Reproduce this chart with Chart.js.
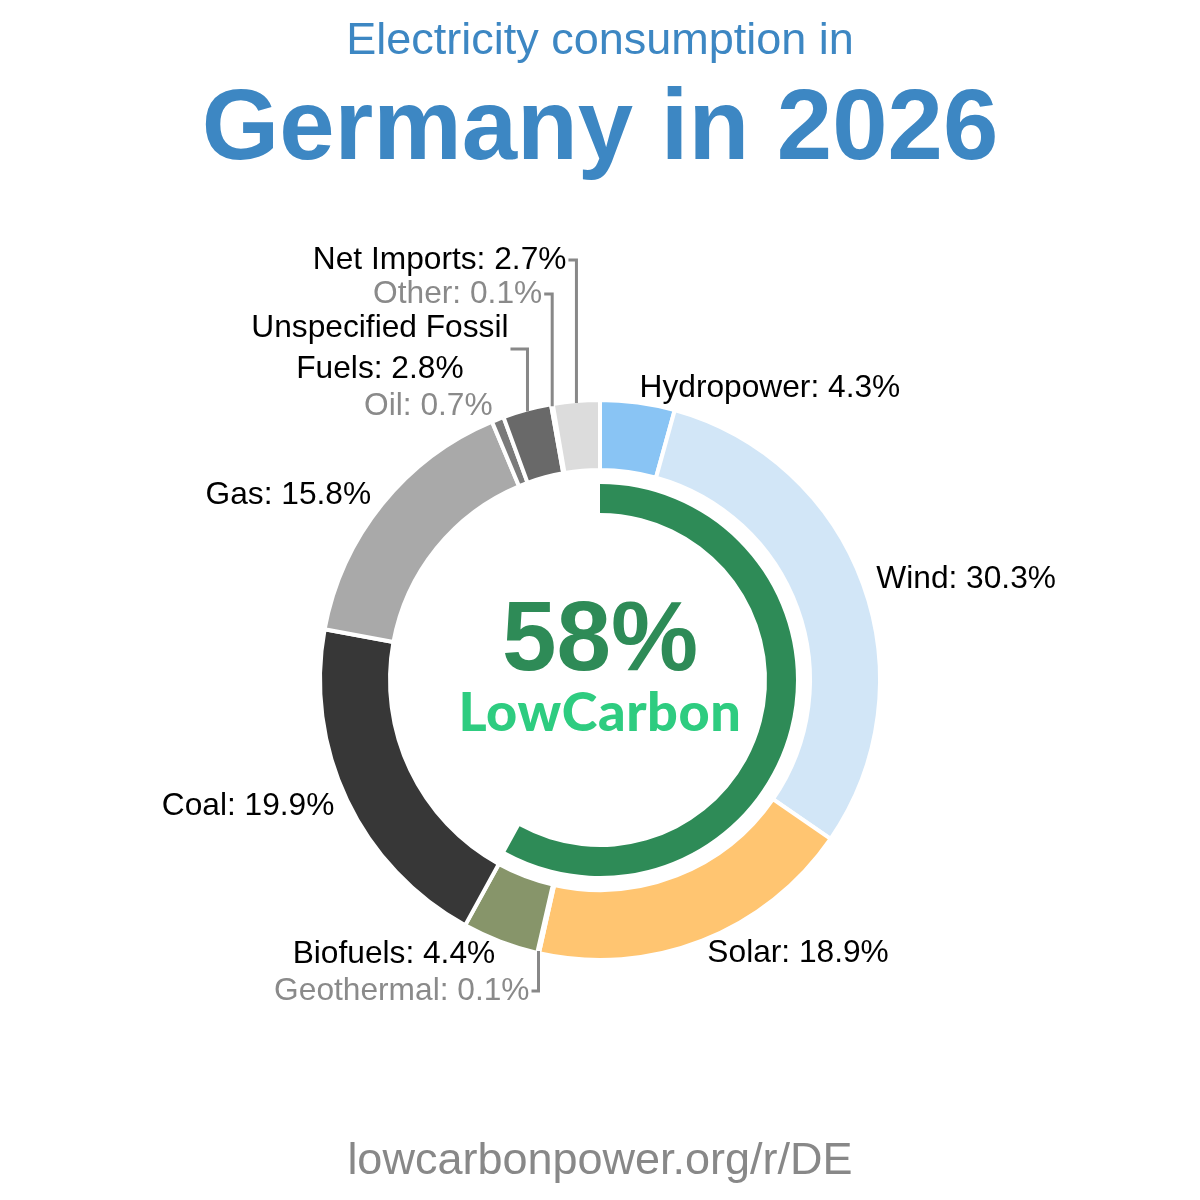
<!DOCTYPE html>
<html>
<head>
<meta charset="utf-8">
<script src="https://cdn.jsdelivr.net/npm/chart.js@4.4.1/dist/chart.umd.min.js"></script>
<style>
html,body{margin:0;padding:0;background:#ffffff;}
#wrap{position:relative;width:1200px;height:1200px;overflow:hidden;background:#fff;}
#c{position:absolute;left:0;top:0;}
.t{position:absolute;left:0;width:1200px;text-align:center;line-height:1;white-space:nowrap;font-family:'Liberation Sans',Arial,sans-serif;}
</style>
</head>
<body>
<div id="wrap">
<canvas id="c" width="1200" height="1200"></canvas>
<div class="t" id="sub" style="top:16px;font-size:45px;color:#3d87c3;"></div>
<div class="t" id="title" style="top:75px;font-size:99.5px;font-weight:bold;color:#3d87c3;"></div>
<div class="t" id="pct" style="top:587px;font-size:98px;font-weight:bold;color:#2e8b57;"></div>
<div class="t" id="lc" style="top:684px;font-size:54px;font-weight:900;letter-spacing:0.6px;font-family:Lato,'Liberation Sans',sans-serif;color:#2ecc80;"></div>
<div class="t" id="foot" style="top:1136px;font-size:45px;color:#888888;"></div>
</div>
<script>
// ---- data ----
const subtitleText = 'Electricity consumption in';
const titleText = 'Germany in 2026';
const footerText = 'lowcarbonpower.org/r/DE';
const categories = ['Hydropower','Wind','Solar','Geothermal','Biofuels','Coal','Gas','Oil','Unspecified Fossil Fuels','Other','Net Imports'];
const shares = [4.3, 30.3, 18.9, 0.1, 4.4, 19.9, 15.8, 0.7, 2.8, 0.1, 2.7];
const lowCarbonFlags = [true, true, true, true, true, false, false, false, false, false, false];
const colors = ['#89c4f4','#d2e6f7','#ffc571','#a0522d','#87956a','#373737','#a9a9a9','#7a7a7a','#696969','#c0c0c0','#dcdcdc'];

// ---- layout (not data) ----
const leaderLayout = {
  'Net Imports': {y: 260, tick: 8},
  'Other': {y: 294, tick: 8},
  'Unspecified Fossil Fuels': {y: 349, tick: 17},
  'Geothermal': {y: 991, tick: 7}
};
const labelFont = '31.7px "Liberation Sans", Arial, sans-serif';

const lowCarbonTotal = shares.reduce((s, v, i) => s + (lowCarbonFlags[i] ? v : 0), 0);
const lowCarbonPct = Math.round(lowCarbonTotal);

document.getElementById('sub').textContent = subtitleText;
document.getElementById('title').textContent = titleText;
document.getElementById('pct').textContent = lowCarbonPct + '%';
document.getElementById('lc').textContent = 'LowCarbon';
document.getElementById('foot').textContent = footerText;

function wrapText(ctx, text, maxW) {
  const words = text.split(' ');
  const lines = [];
  let cur = '';
  for (const w of words) {
    const test = cur ? cur + ' ' + w : w;
    if (ctx.measureText(test).width > maxW && cur) { lines.push(cur); cur = w; }
    else cur = test;
  }
  if (cur) lines.push(cur);
  return lines;
}

const labelPlugin = {
  id: 'sliceLabels',
  afterDatasetsDraw(chart) {
    const ctx = chart.ctx;
    const meta = chart.getDatasetMeta(0);
    ctx.save();
    ctx.font = labelFont;
    ctx.textBaseline = 'middle';
    const lineH = 41;
    meta.data.forEach((arc, i) => {
      const p = arc.getProps(['x','y','startAngle','endAngle','outerRadius'], true);
      const mid = (p.startAngle + p.endAngle) / 2;
      const name = categories[i];
      const txt = name + ': ' + shares[i].toFixed(1) + '%';
      const col = shares[i] < 1 ? '#8a8a8a' : '#000000';
      const lines = wrapText(ctx, txt, 280);
      ctx.fillStyle = col;
      const lay = leaderLayout[name];
      if (lay) {
        const sx = p.x + (p.outerRadius - 2) * Math.cos(mid);
        const sy = p.y + (p.outerRadius - 2) * Math.sin(mid);
        ctx.strokeStyle = '#888888';
        ctx.lineWidth = 3;
        ctx.lineJoin = 'miter';
        ctx.beginPath();
        ctx.moveTo(sx, sy);
        ctx.lineTo(sx, lay.y);
        ctx.lineTo(sx - lay.tick, lay.y);
        ctx.stroke();
        const right = sx - lay.tick - 2;
        const bw = Math.max(...lines.map(l => ctx.measureText(l).width));
        const cxb = right - bw / 2;
        ctx.textAlign = 'center';
        const y0 = lay.y - (lines.length - 1) * lineH / 2;
        lines.forEach((l, k) => ctx.fillText(l, cxb, y0 + k * lineH));
      } else {
        const R = p.outerRadius + 14;
        const px = p.x + R * Math.cos(mid);
        const py = p.y + R * Math.sin(mid);
        ctx.textAlign = px >= p.x ? 'left' : 'right';
        const y0 = py - (lines.length - 1) * lineH / 2;
        lines.forEach((l, k) => ctx.fillText(l, px, y0 + k * lineH));
      }
    });
    ctx.restore();
  }
};

new Chart(document.getElementById('c'), {
  type: 'doughnut',
  data: {
    labels: categories,
    datasets: [
      {data: shares, backgroundColor: colors, borderColor: '#ffffff', borderWidth: 4, weight: 70},
      {data: [1], backgroundColor: ['rgba(0,0,0,0)'], borderWidth: 0, weight: 14},
      {data: [lowCarbonTotal, 100 - lowCarbonTotal], backgroundColor: ['#2e8b57', 'rgba(0,0,0,0)'], borderWidth: 0, weight: 29}
    ]
  },
  options: {
    responsive: false,
    animation: false,
    events: [],
    radius: 280,
    cutout: (167 / 280 * 100).toFixed(3) + '%',
    layout: {padding: {top: 160, left: 0, right: 0, bottom: 0}},
    plugins: {legend: {display: false}, tooltip: {enabled: false}, title: {display: false}}
  },
  plugins: [labelPlugin]
});
</script>
</body>
</html>
